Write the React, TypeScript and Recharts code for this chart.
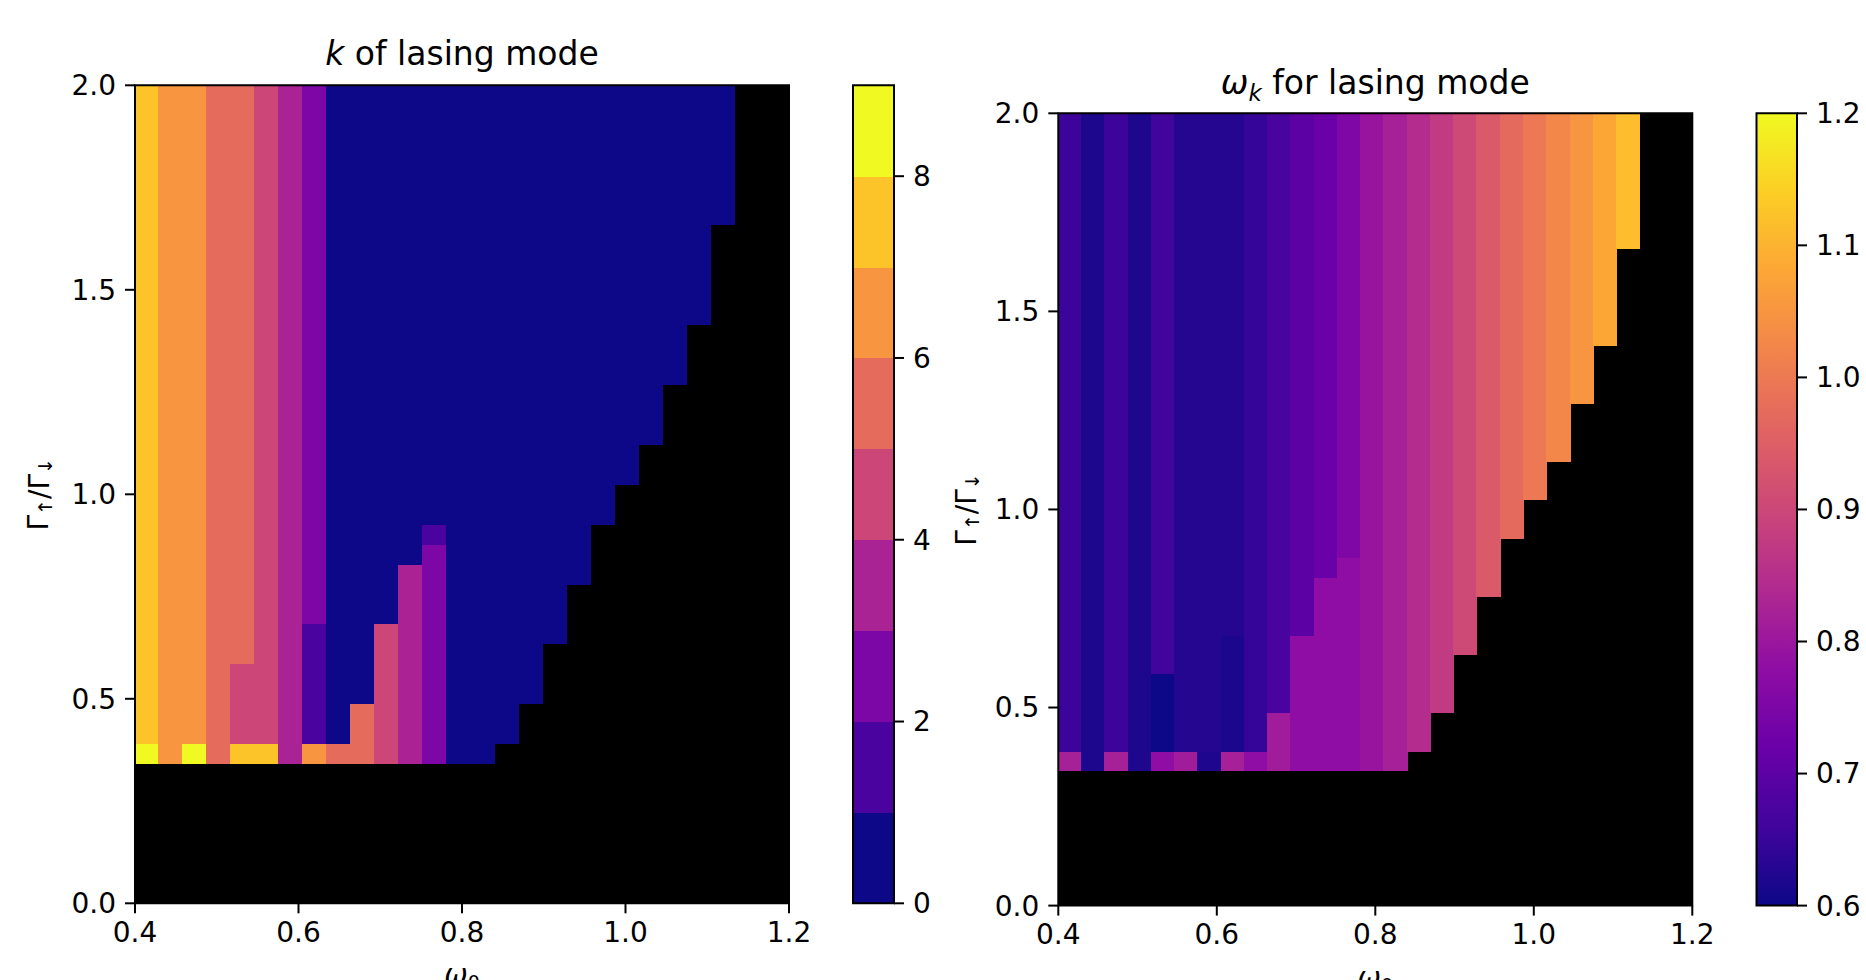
import React from 'react';
import { ComposedChart, XAxis, YAxis, ReferenceArea, Scatter } from 'recharts';

// grid of the scan: omega_0 columns, Gamma_up/Gamma_down rows
const OMEGA0_START = 0.4;
const OMEGA0_STEP = 0.02935;
const GAMMA_ROWS = 41;
const GAMMA_STEP = 2 / GAMMA_ROWS;

// k of lasing mode, one entry per omega_0 column: runs of [first row, k], each run goes up to the next
const kRuns: [number, number][][] = [
    [[7, 8], [8, 7]],
    [[7, 6]],
    [[7, 8], [8, 6]],
    [[7, 5]],
    [[7, 7], [8, 4], [12, 5]],
    [[7, 7], [8, 4]],
    [[7, 3]],
    [[7, 6], [8, 1], [14, 2]],
    [[7, 5], [8, 0]],
    [[7, 5], [10, 0]],
    [[7, 4], [14, 0]],
    [[7, 3], [17, 0]],
    [[7, 2], [18, 1], [19, 0]],
    [[7, 0]],
    [[7, 0]],
    [[8, 0]],
    [[10, 0]],
    [[13, 0]],
    [[16, 0]],
    [[19, 0]],
    [[21, 0]],
    [[23, 0]],
    [[26, 0]],
    [[29, 0]],
    [[34, 0]],
    [],
    [],
];

// omega_k of lasing mode, same layout
const omegaRuns: [number, number][][] = [
    [[7, 0.82], [8, 0.655]],
    [[7, 0.617]],
    [[7, 0.82], [8, 0.655]],
    [[7, 0.617]],
    [[7, 0.78], [8, 0.6], [12, 0.66]],
    [[7, 0.81], [8, 0.628]],
    [[7, 0.62], [8, 0.628]],
    [[7, 0.82], [8, 0.615], [14, 0.628]],
    [[7, 0.78], [8, 0.645]],
    [[7, 0.81], [10, 0.672]],
    [[7, 0.78], [14, 0.7]],
    [[7, 0.78], [17, 0.72]],
    [[7, 0.78], [18, 0.752]],
    [[7, 0.795]],
    [[7, 0.82]],
    [[8, 0.846]],
    [[10, 0.876]],
    [[13, 0.906]],
    [[16, 0.94]],
    [[19, 0.972]],
    [[21, 1.0]],
    [[23, 1.026]],
    [[26, 1.05]],
    [[29, 1.08]],
    [[34, 1.116]],
    [],
    [],
];

const xTicks = [0.4, 0.6, 0.8, 1.0, 1.2];
const yTicks = [0, 0.5, 1.0, 1.5, 2.0];
const kLevels = [0, 1, 2, 3, 4, 5, 6, 7, 8];
const kTicks = [0, 2, 4, 6, 8];
const omegaTicks = [0.6, 0.7, 0.8, 0.9, 1.0, 1.1, 1.2];

const PLASMA = ['#0d0887', '#41049d', '#6a00a8', '#8f0da4', '#b12a90', '#cc4778',
    '#e16462', '#f2844b', '#fca636', '#fcce25', '#f0f921'];

function plasma(t: number) {
    const s = Math.max(0, Math.min(1, t)) * (PLASMA.length - 1);
    const i = Math.min(Math.floor(s), PLASMA.length - 2);
    const f = s - i;
    const a = PLASMA[i], b = PLASMA[i + 1];
    const ch = (h: string, k: number) => parseInt(h.slice(1 + 2 * k, 3 + 2 * k), 16);
    const c = [0, 1, 2].map(k => Math.round(ch(a, k) + (ch(b, k) - ch(a, k)) * f));
    return `rgb(${c[0]},${c[1]},${c[2]})`;
}

const FONT = 'DejaVu Sans';
const tickStyle = { fill: '#000', fontSize: 28, fontFamily: FONT };
const tickLine = { stroke: '#000', strokeWidth: 2 };
const noMark = () => <g />;

// flat cell, drawn without antialiased seams between neighbours
const cellShape = (props: any) => (
    <rect x={props.x} y={props.y} width={props.width} height={props.height}
        fill={props.fill} stroke={props.fill} strokeWidth={1} shapeRendering="crispEdges" />
);

function toCells(runs: [number, number][][], colorOf: (v: number) => string) {
    const cells: { x: number; y: number; x1: number; x2: number; y1: number; y2: number; fill: string }[] = [];
    runs.forEach((col, c) => {
        col.forEach(([row, v], i) => {
            const end = i + 1 < col.length ? col[i + 1][0] : GAMMA_ROWS;
            const x1 = OMEGA0_START + c * OMEGA0_STEP;
            const x2 = OMEGA0_START + (c + 1) * OMEGA0_STEP;
            const y1 = row * GAMMA_STEP;
            const y2 = end * GAMMA_STEP;
            cells.push({ x: (x1 + x2) / 2, y: (y1 + y2) / 2, x1, x2, y1, y2, fill: colorOf(v) });
        });
    });
    return cells;
}

const makeYLabel = (gap: number) => (props: any) => {
    const vb = props.viewBox;
    const x = vb.x + vb.width - gap;
    const y = vb.y + vb.height / 2;
    return (
        <text x={x} y={y} transform={`rotate(-90 ${x} ${y})`} textAnchor="middle"
            dominantBaseline="central" fontSize={28} fontFamily={FONT} fill="#000">
            Γ<tspan fontSize={19} dy={6}>↑</tspan><tspan dy={-6}>/Γ</tspan><tspan fontSize={19} dy={6}>↓</tspan>
        </text>
    );
};

const xLabel = (props: any) => {
    const vb = props.viewBox;
    return (
        <text x={vb.x + vb.width / 2} y={vb.y + 81} textAnchor="middle" fontSize={28} fontFamily={FONT} fill="#000">
            <tspan fontStyle="italic">ω</tspan><tspan fontSize={19} dy={5}>0</tspan>
        </text>
    );
};

interface PanelProps {
    runs: [number, number][][];
    colorOf: (v: number) => string;
    title: (props: any) => React.ReactElement;
    yGap: number;
    width: number;
    margin: { top: number; right: number; bottom: number; left: number };
}

function HeatPanel({ runs, colorOf, title, yGap, width, margin }: PanelProps) {
    const cells = toCells(runs, colorOf);
    return (
        <ComposedChart width={width} height={980} margin={margin} data={cells}>
            <XAxis type="number" dataKey="x" domain={[0.4, 1.2]} allowDataOverflow ticks={xTicks}
                tickFormatter={(v: number) => v.toFixed(1)}
                tick={tickStyle} tickLine={tickLine} axisLine={false} tickSize={10} tickMargin={9} height={60}
                label={xLabel} />
            <YAxis type="number" dataKey="y" domain={[0, 2]} allowDataOverflow ticks={yTicks}
                tickFormatter={(v: number) => v.toFixed(1)}
                tick={tickStyle} tickLine={tickLine} axisLine={false} tickSize={10} tickMargin={9} width={60}
                label={makeYLabel(yGap)} />
            <ReferenceArea x1={0.4} x2={1.2} y1={0} y2={2} fill="#000" fillOpacity={1} />
            {cells.map((c, i) => (
                <ReferenceArea key={`cell-${i}`} x1={c.x1} x2={c.x2} y1={c.y1} y2={c.y2}
                    fill={c.fill} fillOpacity={1} shape={cellShape} />
            ))}
            <Scatter dataKey="y" shape={noMark} isAnimationActive={false} legendType="none" />
            <ReferenceArea x1={0.4} x2={1.2} y1={0} y2={2} fill="none" stroke="#000" strokeWidth={2} label={title} />
        </ComposedChart>
    );
}

const kTitle = (props: any) => {
    const vb = props.viewBox;
    return (
        <text x={vb.x + vb.width / 2} y={vb.y - 20} textAnchor="middle" fontSize={33} fontFamily={FONT} fill="#000">
            <tspan fontStyle="italic">k</tspan> of lasing mode
        </text>
    );
};

const omegaTitle = (props: any) => {
    const vb = props.viewBox;
    return (
        <text x={vb.x + vb.width / 2} y={vb.y - 19} textAnchor="middle" fontSize={33} fontFamily={FONT} fill="#000">
            <tspan fontStyle="italic">ω</tspan><tspan fontStyle="italic" fontSize={23} dy={7}>k</tspan>
            <tspan dy={-7}> for lasing mode</tspan>
        </text>
    );
};

const kBins = kLevels.map(k => ({ x: 0.5, y: k + 0.5, k }));

function KColorbar() {
    return (
        <ComposedChart width={160} height={980} margin={{ top: 85.3, right: 6, bottom: 76.7, left: 53 }} data={kBins}>
            <XAxis type="number" dataKey="x" domain={[0, 1]} allowDataOverflow hide />
            <YAxis type="number" dataKey="y" orientation="right" domain={[0, 9]} allowDataOverflow ticks={kTicks}
                tick={tickStyle} tickLine={tickLine} axisLine={false} tickSize={10} tickMargin={9} width={60} />
            {kBins.map(b => (
                <ReferenceArea key={`k-${b.k}`} x1={0} x2={1} y1={b.k} y2={b.k + 1}
                    fill={plasma(b.k / 8)} fillOpacity={1} shape={cellShape} />
            ))}
            <Scatter dataKey="y" shape={noMark} isAnimationActive={false} legendType="none" />
            <ReferenceArea x1={0} x2={1} y1={0} y2={9} fill="none" stroke="#000" strokeWidth={2} />
        </ComposedChart>
    );
}

const gradientBar = (props: any) => (
    <g>
        <defs>
            <linearGradient id="plasmaGrad" x1="0" y1="1" x2="0" y2="0">
                {PLASMA.map((c, i) => <stop key={c} offset={i / (PLASMA.length - 1)} stopColor={c} />)}
            </linearGradient>
        </defs>
        <rect x={props.x} y={props.y} width={props.width} height={props.height} fill="url(#plasmaGrad)" />
    </g>
);

const omegaEnds = [{ x: 0, y: 0.6 }, { x: 1, y: 1.2 }];

function OmegaColorbar() {
    return (
        <ComposedChart width={166} height={980} margin={{ top: 113.3, right: 9, bottom: 74.4, left: 56.5 }} data={omegaEnds}>
            <XAxis type="number" dataKey="x" domain={[0, 1]} allowDataOverflow hide />
            <YAxis type="number" dataKey="y" orientation="right" domain={[0.6, 1.2]} allowDataOverflow ticks={omegaTicks}
                tickFormatter={(v: number) => v.toFixed(1)}
                tick={tickStyle} tickLine={tickLine} axisLine={false} tickSize={10} tickMargin={9} width={60} />
            <ReferenceArea x1={0} x2={1} y1={0.6} y2={1.2} shape={gradientBar} />
            <Scatter dataKey="y" shape={noMark} isAnimationActive={false} legendType="none" />
            <ReferenceArea x1={0} x2={1} y1={0.6} y2={1.2} fill="none" stroke="#000" strokeWidth={2} />
        </ComposedChart>
    );
}

export default function App() {
    const omegaColor = (v: number) => plasma((v - 0.6) / 0.6);
    const kColor = (v: number) => plasma(v / 8);
    return (
        <div style={{ position: 'absolute', left: 0, top: 0, width: 1866, height: 980, background: '#fff', overflow: 'hidden' }}>
            <div style={{ position: 'absolute', left: 0, top: 0 }}>
                <HeatPanel runs={kRuns} colorOf={kColor} title={kTitle} yGap={96} width={840}
                    margin={{ top: 85.3, right: 51, bottom: 16.7, left: 75 }} />
            </div>
            <div style={{ position: 'absolute', left: 800, top: 0 }}>
                <KColorbar />
            </div>
            <div style={{ position: 'absolute', left: 930, top: 0 }}>
                <HeatPanel runs={omegaRuns} colorOf={omegaColor} title={omegaTitle} yGap={92} width={800}
                    margin={{ top: 113.3, right: 37.7, bottom: 14.4, left: 68.3 }} />
            </div>
            <div style={{ position: 'absolute', left: 1700, top: 0 }}>
                <OmegaColorbar />
            </div>
        </div>
    );
}
